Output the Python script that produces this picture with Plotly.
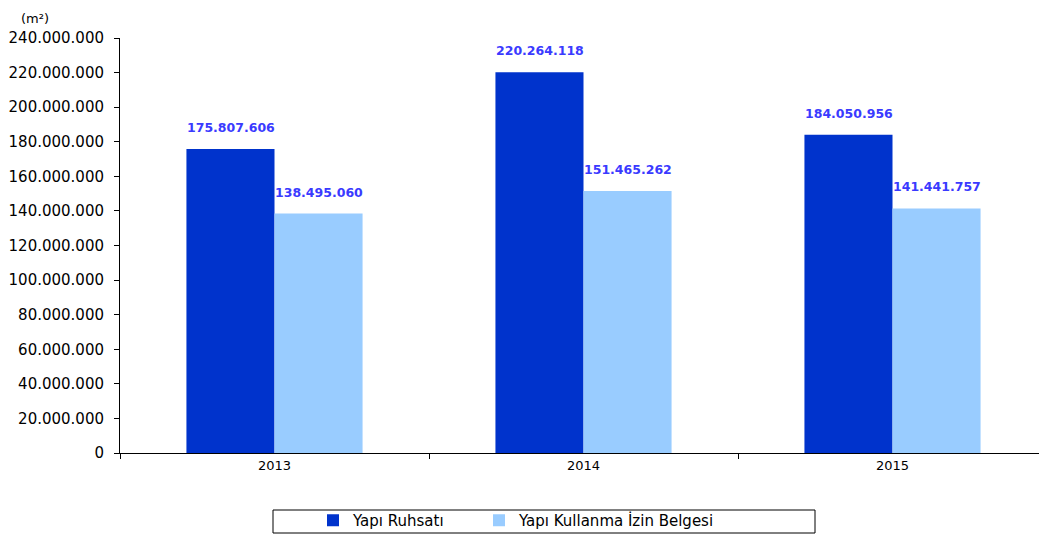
import plotly.graph_objects as go

years = ["2013", "2014", "2015"]
ruhsat = [175807606, 220264118, 184050956]
iskan = [138495060, 151465262, 141441757]
y_ticks = list(range(0, 240000001, 20000000))


def fmt(v):
    return f"{v:,}".replace(",", ".")


# page body has an 8px margin, so positions below are in screen pixels
# relative to a plot area spanning x 120..1047, y 38..453
PL, PT, PW, PH = 120, 38, 927, 415


def px_x(x):
    return (x - PL) / PW


def px_y(y):
    return 1 - (y - PT) / PH


fig = go.Figure()
fig.add_trace(go.Bar(x=years, y=ruhsat, name="Yapı Ruhsatı", legend="legend",
                     marker=dict(color="#0033cc", line=dict(width=0))))
fig.add_trace(go.Bar(x=years, y=iskan, name="Yapı Kullanma İzin Belgesi",
                     legend="legend2",
                     marker=dict(color="#99ccff", line=dict(width=0))))

# value labels above the bars (x given as category index)
for i in range(len(years)):
    for vals, shift in ((ruhsat, -44), (iskan, 44)):
        fig.add_annotation(x=i, y=vals[i], text=f"<b>{fmt(vals[i])}</b>",
                           xshift=shift, yshift=12, yanchor="bottom",
                           showarrow=False,
                           font=dict(family="DejaVu Sans", size=12.5, color="#3a3aff"))

fig.add_annotation(x=px_x(19), y=px_y(9), xref="paper", yref="paper",
                   text="(m²)", showarrow=False, xanchor="left", yanchor="top",
                   font=dict(size=13, color="black"))

# legend frame
fig.add_shape(type="rect", xref="paper", yref="paper",
              x0=px_x(273), x1=px_x(815), y0=px_y(533), y1=px_y(510),
              line=dict(color="black", width=1), fillcolor="rgba(0,0,0,0)")

leg = dict(orientation="h", xanchor="left", yanchor="middle", y=px_y(521),
           bgcolor="rgba(0,0,0,0)", borderwidth=0, font=dict(size=15),
           itemwidth=30)

fig.update_layout(
    width=1039, height=529,
    barmode="group", bargap=0.43, bargroupgap=0,
    plot_bgcolor="white", paper_bgcolor="white",
    font=dict(family="DejaVu Sans, Liberation Sans", size=14, color="black"),
    margin=dict(l=112, r=0, t=30, b=84),
    showlegend=True,
    legend=dict(leg, x=px_x(313)),
    legend2=dict(leg, x=px_x(479)),
)
fig.update_xaxes(type="category", range=[-0.5, 2.5], showline=True,
                 linecolor="black", linewidth=1,
                 ticks="outside", tickson="boundaries", ticklen=5,
                 tickcolor="black", tickfont=dict(size=13))
fig.update_yaxes(range=[0, 240000000], tickvals=y_ticks,
                 ticktext=[fmt(v) for v in y_ticks],
                 showline=True, linecolor="black", linewidth=1,
                 ticks="outside", ticklen=5, tickcolor="black",
                 tickfont=dict(size=15), ticklabelstandoff=7,
                 showgrid=False, zeroline=False)

fig.write_html("out.html")
